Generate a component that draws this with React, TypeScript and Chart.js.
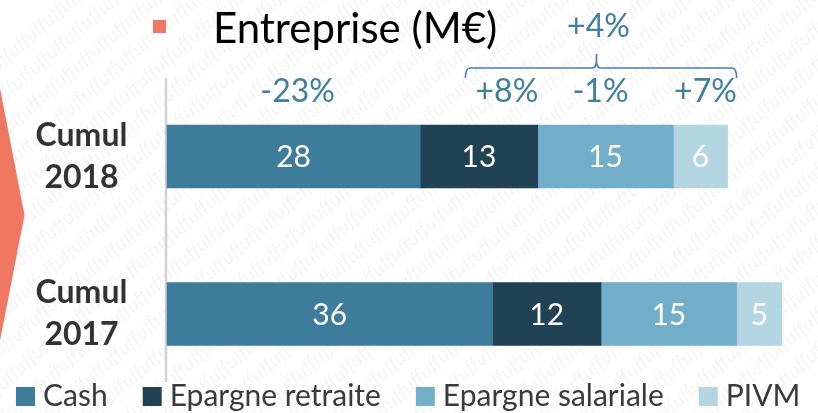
import React, { useEffect, useRef } from 'react';
import { Chart, registerables } from 'chart.js';

Chart.register(...registerables);

// ---- data ----
const categories = [['Cumul', '2018'], ['Cumul', '2017']];
const seriesNames = ['Cash', 'Epargne retraite', 'Epargne salariale', 'PIVM'];
const cash = [28, 36];
const epargneRetraite = [13, 12];
const epargneSalariale = [15, 15];
const pivm = [6, 5];
const evolutionLabels = ['-23%', '+8%', '-1%', '+7%'];
const totalEvolutionLabel = '+4%';
const titleText = 'Entreprise (M€)';

// ---- styles ----
const FONT = 'Lato, "Liberation Sans", sans-serif';
const seriesColors = ['#3D7D9B', '#214254', '#72AECA', '#B4D5E2'];
const pctColor = '#3F7F9F';
const braceColor = '#4A78C8';
const accent = '#F07762';

const decorPlugin = {
  id: 'decor',
  beforeDraw(chart: any) {
    const { ctx } = chart;
    ctx.save();
    // watermark texture
    ctx.save();
    ctx.fillStyle = 'rgba(0,0,0,0.04)';
    ctx.font = `italic 20px ${FONT}`;
    ctx.textBaseline = 'middle';
    ctx.translate(409, 206);
    ctx.rotate(-0.72);
    const row = 'uff'.repeat(60);
    for (let k = -14; k <= 14; k++) {
      ctx.fillText(row, -700 + ((k * 11) % 30), k * 27);
    }
    ctx.restore();
    // chevron at left
    ctx.fillStyle = accent;
    ctx.beginPath();
    ctx.moveTo(0, 88);
    ctx.lineTo(24.5, 215);
    ctx.lineTo(0, 341);
    ctx.closePath();
    ctx.fill();
    // title bullet + title
    ctx.fillRect(153, 20, 13, 13);
    ctx.fillStyle = '#000';
    ctx.font = `42px ${FONT}`;
    ctx.textBaseline = 'alphabetic';
    ctx.textAlign = 'left';
    ctx.fillText(titleText, 213, 43);
    ctx.restore();
  },
  beforeDatasetsDraw(chart: any) {
    const { ctx, chartArea } = chart;
    ctx.save();
    ctx.strokeStyle = '#D2D2D2';
    ctx.lineWidth = 2.5;
    ctx.beginPath();
    ctx.moveTo(chartArea.left - 1, 78);
    ctx.lineTo(chartArea.left - 1, 382);
    ctx.stroke();
    ctx.restore();
  },
  afterDatasetsDraw(chart: any) {
    const { ctx } = chart;
    const xs = chart.scales.x;
    ctx.save();
    // values inside segments
    ctx.fillStyle = '#FFFFFF';
    ctx.font = `30px ${FONT}`;
    ctx.textAlign = 'center';
    ctx.textBaseline = 'middle';
    chart.data.datasets.forEach((ds: any, i: number) => {
      const meta = chart.getDatasetMeta(i);
      meta.data.forEach((el: any, j: number) => {
        ctx.fillText(String(ds.data[j]), (el.x + el.base) / 2, el.y + 1);
      });
    });
    // evolution percentages above top bar
    const offsets = [4, 28, -5, 5];
    ctx.fillStyle = pctColor;
    ctx.font = `32px ${FONT}`;
    chart.data.datasets.forEach((_ds: any, i: number) => {
      const el = chart.getDatasetMeta(i).data[0];
      const top = el.y - el.height / 2;
      ctx.fillText(evolutionLabels[i], (el.x + el.base) / 2 + offsets[i], top - 33);
    });
    // brace
    const l = xs.getPixelForValue(33);
    const r = xs.getPixelForValue(63);
    const m = xs.getPixelForValue(47.5);
    const yb = 68;
    ctx.strokeStyle = braceColor;
    ctx.lineWidth = 1.6;
    ctx.beginPath();
    ctx.moveTo(l, yb + 10);
    ctx.quadraticCurveTo(l, yb, l + 5, yb);
    ctx.lineTo(m - 4, yb);
    ctx.quadraticCurveTo(m, yb, m, yb - 8);
    ctx.lineTo(m, yb - 14);
    ctx.moveTo(m, yb - 8);
    ctx.quadraticCurveTo(m, yb, m + 4, yb);
    ctx.lineTo(r - 5, yb);
    ctx.quadraticCurveTo(r, yb, r, yb + 10);
    ctx.stroke();
    ctx.fillText(totalEvolutionLabel, m + 2, 27);

    // legend (from datasets)
    ctx.font = `30px ${FONT}`;
    ctx.textAlign = 'left';
    ctx.textBaseline = 'middle';
    let x = 16;
    const ly = 396;
    chart.data.datasets.forEach((ds: any) => {
      ctx.fillStyle = ds.backgroundColor;
      ctx.fillRect(x, ly - 9, 19, 19);
      ctx.fillStyle = '#3A3A3A';
      const tx = x + 27;
      ctx.fillText(ds.label, tx, ly);
      x = tx + ctx.measureText(ds.label).width + 35;
    });
    ctx.restore();
  },
};

export default function App() {
  const ref = useRef<HTMLCanvasElement | null>(null);
  useEffect(() => {
    if (!ref.current) return;
    const meas = document.createElement('canvas').getContext('2d')!;
    meas.font = `bold 32px ${FONT}`;
    const widest = meas.measureText('Cumul').width;
    const tickPad = 167 - 81.5 - widest / 2;

    const seriesValues = [cash, epargneRetraite, epargneSalariale, pivm];
    const chart = new Chart(ref.current, {
      type: 'bar',
      data: {
        labels: categories as any,
        datasets: seriesNames.map((name, i) => ({
          label: name,
          data: seriesValues[i],
          backgroundColor: seriesColors[i],
          borderWidth: 0,
          barThickness: 63,
          clip: false as any,
        })),
      },
      options: {
        indexAxis: 'y',
        animation: false,
        responsive: false,
        maintainAspectRatio: false,
        layout: { padding: { top: 156.5, bottom: 99, left: 0, right: 0 } },
        scales: {
          x: {
            stacked: true,
            min: 0,
            max: 72,
            display: false,
          },
          y: {
            stacked: true,
            offset: false,
            grid: { display: false, drawTicks: false },
            border: { display: false },
            ticks: {
              crossAlign: 'center',
              padding: tickPad,
              color: '#333333',
              font: { family: FONT, size: 32, weight: 'bold', lineHeight: 1.32 },
            },
            afterFit: (s: any) => { s.width = 167; },
          },
        },
        plugins: {
          title: { display: false },
          tooltip: { enabled: false },
          legend: { display: false },
        },
      },
      plugins: [decorPlugin],
    });
    return () => chart.destroy();
  }, []);
  return (
    <div style={{ position: 'fixed', left: 0, top: 0, width: 818, height: 413, background: '#fff' }}>
      <canvas ref={ref} width={818} height={413} style={{ width: 818, height: 413, display: 'block' }} />
    </div>
  );
}
